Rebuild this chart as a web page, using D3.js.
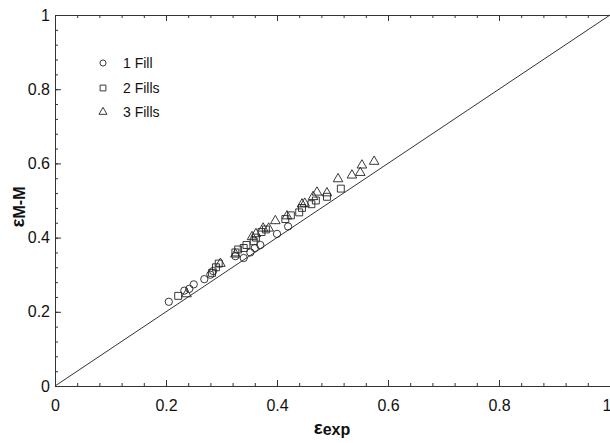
<!DOCTYPE html>
<html><head><meta charset="utf-8">
<script src="https://cdn.jsdelivr.net/npm/d3@7"></script>
<style>body{margin:0;background:#fff}svg{display:block}</style>
</head><body>
<script>
const majorTicks = [0, 0.2, 0.4, 0.6, 0.8, 1];
const tickLabels = ["0", "0.2", "0.4", "0.6", "0.8", "1"];
const minorTicks = d3.range(0, 1.0001, 0.04);
const seriesNames = ["1 Fill", "2 Fills", "3 Fills"];
const fill1 = [[0.205,0.227],[0.233,0.257],[0.242,0.262],[0.25,0.274],[0.269,0.288],[0.28,0.3],[0.285,0.31],[0.325,0.35],[0.34,0.345],[0.352,0.36],[0.36,0.372],[0.37,0.38],[0.40,0.41],[0.42,0.43]];
const fill2 = [[0.222,0.243],[0.283,0.305],[0.29,0.32],[0.295,0.33],[0.325,0.36],[0.33,0.368],[0.34,0.372],[0.345,0.38],[0.358,0.39],[0.362,0.4],[0.372,0.415],[0.38,0.422],[0.415,0.45],[0.425,0.46],[0.44,0.468],[0.445,0.48],[0.462,0.49],[0.47,0.5],[0.49,0.51],[0.515,0.532]];
const fill3 = [[0.237,0.248],[0.298,0.33],[0.325,0.355],[0.355,0.402],[0.362,0.41],[0.375,0.425],[0.385,0.425],[0.397,0.445],[0.418,0.458],[0.445,0.49],[0.45,0.492],[0.465,0.51],[0.472,0.522],[0.49,0.52],[0.51,0.558],[0.535,0.568],[0.55,0.575],[0.553,0.595],[0.575,0.605]];

const W = 610, H = 443;
const svg = d3.select("body").append("svg").attr("width", W).attr("height", H);
const x = d3.scaleLinear().domain([0, 1]).range([55, 610]);
const y = d3.scaleLinear().domain([0, 1]).range([386, 15]);
const col = "#333";
const font = "Liberation Sans, Arial, sans-serif";

function styleAxis(g){
  g.select(".domain").attr("stroke", col).attr("stroke-width", 1);
  g.selectAll(".tick line").attr("stroke", col);
  g.selectAll("text").attr("font-family", font).attr("font-size", 16).attr("fill", "#111");
}
// bottom
svg.append("g").attr("transform", `translate(0,${y(0)})`)
  .call(d3.axisBottom(x).tickValues(minorTicks).tickSize(-3).tickFormat("").tickSizeOuter(0)).call(styleAxis);
const bx = svg.append("g").attr("transform", `translate(0,${y(0)})`)
  .call(d3.axisBottom(x).tickValues(majorTicks).tickSize(-6).tickPadding(14).tickFormat((d,i)=>tickLabels[i]).tickSizeOuter(0)).call(styleAxis);
bx.selectAll(".tick text").filter(d => d === 1).attr("text-anchor", "end").attr("dx", 1);
// top
svg.append("g").attr("transform", `translate(0,${y(1)})`)
  .call(d3.axisTop(x).tickValues(minorTicks).tickSize(-3).tickFormat("").tickSizeOuter(0)).call(styleAxis);
svg.append("g").attr("transform", `translate(0,${y(1)})`)
  .call(d3.axisTop(x).tickValues(majorTicks).tickSize(-6).tickFormat("").tickSizeOuter(0)).call(styleAxis);
// left
svg.append("g").attr("transform", `translate(${x(0)},0)`)
  .call(d3.axisLeft(y).tickValues(minorTicks).tickSize(-3).tickFormat("").tickSizeOuter(0)).call(styleAxis);
svg.append("g").attr("transform", `translate(${x(0)},0)`)
  .call(d3.axisLeft(y).tickValues(majorTicks).tickSize(-6).tickPadding(5).tickFormat((d,i)=>tickLabels[i]).tickSizeOuter(0)).call(styleAxis);

// diagonal
svg.append("line").attr("x1", x(0)).attr("y1", y(0)).attr("x2", x(1)).attr("y2", y(1))
  .attr("stroke", col).attr("stroke-width", 1);

const sym = [d3.symbolCircle, d3.symbolSquare, d3.symbolTriangle];
const sizes = [42, 48, 40];
const data = [fill1, fill2, fill3];
data.forEach((ser, k) => {
  svg.append("g").selectAll("path").data(ser).join("path")
    .attr("transform", d => `translate(${x(d[0])},${y(d[1])})`)
    .attr("d", d3.symbol(sym[k], sizes[k]))
    .attr("fill", "none").attr("stroke", "#222").attr("stroke-width", 0.9);
});

// legend
const ly = [63, 88, 112];
seriesNames.forEach((n, k) => {
  svg.append("path").attr("transform", `translate(103,${ly[k]})`)
    .attr("d", d3.symbol(sym[k], sizes[k]*0.7))
    .attr("fill", "none").attr("stroke", "#222").attr("stroke-width", 0.9);
  svg.append("text").attr("x", 123).attr("y", ly[k] + 5)
    .attr("font-family", font).attr("font-size", 14).attr("fill", "#111").text(n);
});

// axis titles
const xt = svg.append("text").attr("x", 332).attr("y", 434).attr("text-anchor", "middle")
  .attr("font-family", font).attr("font-weight", "bold").attr("fill", "#111");
xt.append("tspan").attr("font-size", 19).text("ε");
xt.append("tspan").attr("font-size", 16).attr("dy", 1).text("exp");
const yt = svg.append("text").attr("transform", "translate(24,207) rotate(-90)").attr("text-anchor", "middle")
  .attr("font-family", font).attr("font-weight", "bold").attr("fill", "#111");
yt.append("tspan").attr("font-size", 19).text("ε");
yt.append("tspan").attr("font-size", 16).attr("dy", 1).text("M-M");
</script>
</body></html>
